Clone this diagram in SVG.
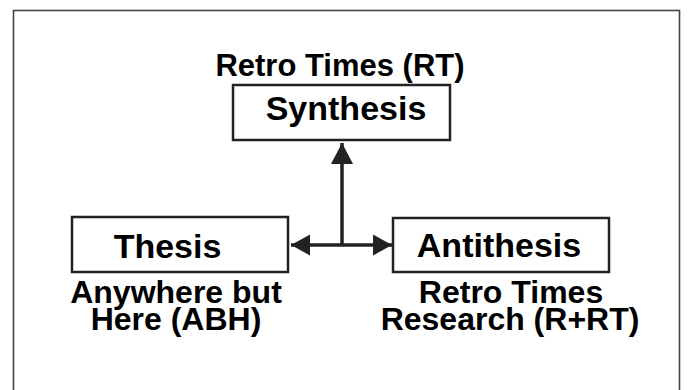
<svg xmlns="http://www.w3.org/2000/svg" width="688" height="390" viewBox="0 0 688 390">
<style>
.bg{fill:#fff}
.frame{fill:none;stroke:#444;stroke-width:1.6}
.box{fill:#fff;stroke:#222;stroke-width:2.5}
.lbl{font-family:"Liberation Sans",Arial,sans-serif;font-weight:bold;fill:#000;text-anchor:middle}
.name{font-size:34px}
.cap{font-size:32px}
.conn{fill:none;stroke:#222;stroke-width:3.5}
</style>
<defs>
<marker id="ah" markerUnits="userSpaceOnUse" markerWidth="22" markerHeight="24" refX="21" refY="12" orient="auto" viewBox="0 0 22 24">
<path d="M0,1 L21,12 L0,23 z" fill="#222"/>
</marker>
<marker id="ahs" markerUnits="userSpaceOnUse" markerWidth="20" markerHeight="22" refX="19" refY="11" orient="auto" viewBox="0 0 20 22">
<path d="M0,0.5 L19,11 L0,21.5 z" fill="#222"/>
</marker>
</defs>
<rect class="bg" x="0" y="0" width="688" height="390"/>
<rect class="frame" x="13.5" y="10.5" width="666" height="400"/>
<g id="connectors">
<path class="conn" d="M342,246 L342,143" marker-end="url(#ah)"/>
<path class="conn" d="M342,245 L291,245" marker-end="url(#ahs)"/>
<path class="conn" d="M342,245 L392,245" marker-end="url(#ahs)"/>
</g>
<g id="synthesis">
<text class="lbl cap" x="340" y="76" style="font-size:31px">Retro Times (RT)</text>
<rect class="box" x="233" y="85" width="217" height="55"/>
<text class="lbl name" x="346" y="120">Synthesis</text>
</g>
<g id="thesis">
<rect class="box" x="72" y="217" width="216" height="55"/>
<text class="lbl name" x="167.5" y="258">Thesis</text>
<text class="lbl cap" x="176" y="303">Anywhere but</text>
<text class="lbl cap" x="176" y="330">Here (ABH)</text>
</g>
<g id="antithesis">
<rect class="box" x="393" y="218" width="216" height="54"/>
<text class="lbl name" x="499" y="257">Antithesis</text>
<text class="lbl cap" x="511" y="303">Retro Times</text>
<text class="lbl cap" x="510" y="330">Research (R+RT)</text>
</g>
</svg>
